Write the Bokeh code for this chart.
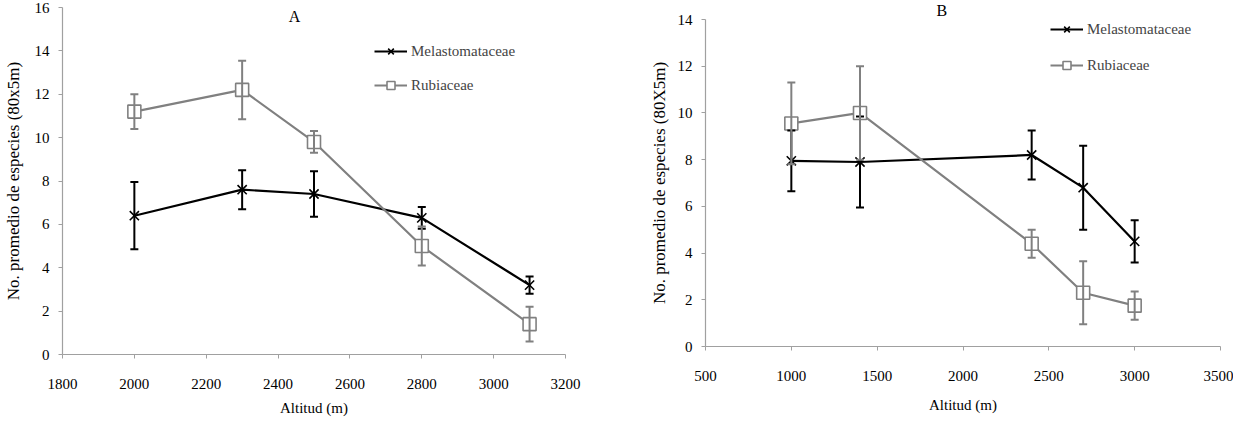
from bokeh.plotting import figure
from bokeh.layouts import row
from bokeh.models import (Whisker, TeeHead, ColumnDataSource, Legend, LegendItem,
                          Title, Label, FixedTicker, Range1d)
from bokeh.embed import file_html
from bokeh.resources import INLINE

FONT = "'Liberation Serif', 'Times New Roman', 'DejaVu Serif', serif"
BLACK = "#000000"
GRAY = "#808080"
AXIS = "#a0a0a0"

# ---- Panel A data ----
alt_a = [2000, 2300, 2500, 2800, 3100]
mel_a = [6.4, 7.6, 7.4, 6.3, 3.2]
mel_a_err = [1.55, 0.9, 1.05, 0.5, 0.4]
rub_a = [11.2, 12.2, 9.8, 5.0, 1.4]
rub_a_err = [0.8, 1.35, 0.5, 0.9, 0.8]
xticks_a = [1800, 2000, 2200, 2400, 2600, 2800, 3000, 3200]
yticks_a = [0, 2, 4, 6, 8, 10, 12, 14, 16]

# ---- Panel B data ----
alt_b = [1000, 1400, 2400, 2700, 3000]
mel_b = [7.95, 7.9, 8.2, 6.8, 4.5]
mel_b_err = [1.3, 1.95, 1.05, 1.8, 0.9]
rub_b = [9.55, 10.0, 4.4, 2.3, 1.75]
rub_b_err = [1.75, 2.0, 0.6, 1.35, 0.6]
xticks_b = [500, 1000, 1500, 2000, 2500, 3000, 3500]
yticks_b = [0, 2, 4, 6, 8, 10, 12, 14]


def make_panel(alt, mel, mel_err, rub, rub_err, xticks, yticks, ylabel,
               width, borders, legend_loc, legend_spacing, xstand, ystand):
    bl, br, bt, bb = borders
    p = figure(width=width, height=418,
               x_range=Range1d(xticks[0], xticks[-1]),
               y_range=Range1d(yticks[0], yticks[-1]),
               output_backend="svg", toolbar_location=None,
               min_border_left=bl, min_border_right=br,
               min_border_top=bt, min_border_bottom=bb)
    p.frame_align = False
    p.outline_line_color = None
    p.grid.visible = False
    p.background_fill_color = "white"
    p.border_fill_color = "white"

    for ax in (p.xaxis[0], p.yaxis[0]):
        ax.axis_line_color = AXIS
        ax.axis_line_width = 1.2
        ax.major_tick_line_color = AXIS
        ax.major_tick_in = 0
        ax.major_tick_out = 4
        ax.minor_tick_line_color = None
        ax.major_label_text_font = FONT
        ax.major_label_text_font_size = "15px"
        ax.major_label_text_color = "black"
        ax.axis_label_text_font = FONT
        ax.axis_label_text_font_style = "normal"
        ax.axis_label_text_color = "black"

    p.xaxis.ticker = FixedTicker(ticks=xticks)
    p.yaxis.ticker = FixedTicker(ticks=yticks)
    p.xaxis.major_label_standoff = xstand[0]
    p.yaxis.major_label_standoff = 9
    p.xaxis.axis_label = "Altitud (m)"
    p.xaxis.axis_label_text_font_size = "15px"
    p.xaxis.axis_label_standoff = xstand[1]
    p.yaxis.axis_label = ylabel
    p.yaxis.axis_label_text_font_size = "17px"
    p.yaxis.axis_label_standoff = ystand

    src_m = ColumnDataSource(dict(x=alt, y=mel,
                                  lo=[v - e for v, e in zip(mel, mel_err)],
                                  hi=[v + e for v, e in zip(mel, mel_err)]))
    src_r = ColumnDataSource(dict(x=alt, y=rub,
                                  lo=[v - e for v, e in zip(rub, rub_err)],
                                  hi=[v + e for v, e in zip(rub, rub_err)]))

    l_m = p.line("x", "y", source=src_m, line_color=BLACK, line_width=2.2)
    l_r = p.line("x", "y", source=src_r, line_color=GRAY, line_width=2.2)

    for src, col in ((src_m, BLACK), (src_r, GRAY)):
        w = Whisker(source=src, base="x", upper="hi", lower="lo",
                    line_color=col, line_width=2, level="glyph",
                    upper_head=TeeHead(size=8, line_color=col, line_width=2),
                    lower_head=TeeHead(size=8, line_color=col, line_width=2))
        p.add_layout(w)

    s_m = p.scatter("x", "y", source=src_m, marker="x", size=13,
                    line_color=BLACK, line_width=1.6)
    s_r = p.scatter("x", "y", source=src_r, marker="square", size=13,
                    line_color=GRAY, fill_color="white", line_width=1.6)

    legend = Legend(items=[LegendItem(label="Melastomataceae", renderers=[l_m, s_m]),
                           LegendItem(label="Rubiaceae", renderers=[l_r, s_r])],
                    location=legend_loc, glyph_width=33, glyph_height=20,
                    spacing=legend_spacing, padding=0, margin=0, label_standoff=4,
                    border_line_alpha=0, background_fill_alpha=0,
                    label_text_font=FONT, label_text_font_size="15px",
                    label_height=20)
    p.add_layout(legend)
    return p


pA = make_panel(alt_a, mel_a, mel_a_err, rub_a, rub_a_err, xticks_a, yticks_a,
                "No. promedio de especies (80x5m)",
                620, (55, 55, 7, 64), (312, 259), 14, (20, 8), 9)
# Panel A title sits at the top of the frame
pA.add_layout(Label(x=2446, y=16, text="A", text_align="center", text_baseline="top",
                    text_font=FONT, text_font_size="16px", text_color="black"))

pB = make_panel(alt_b, mel_b, mel_b_err, rub_b, rub_b_err, xticks_b, yticks_b,
                "No. promedio de especies (80X5m)",
                613, (85, 13, 19, 72), (345, 271), 16, (20, 13), 6)
pB.add_layout(Title(text="B", align="left", offset=231, standoff=-2,
                    vertical_align="top",
                    text_font=FONT, text_font_size="16px", text_font_style="normal",
                    text_color="black"), "above")

layout = row(pA, pB)
open("out.html", "w").write(file_html(layout, INLINE))
